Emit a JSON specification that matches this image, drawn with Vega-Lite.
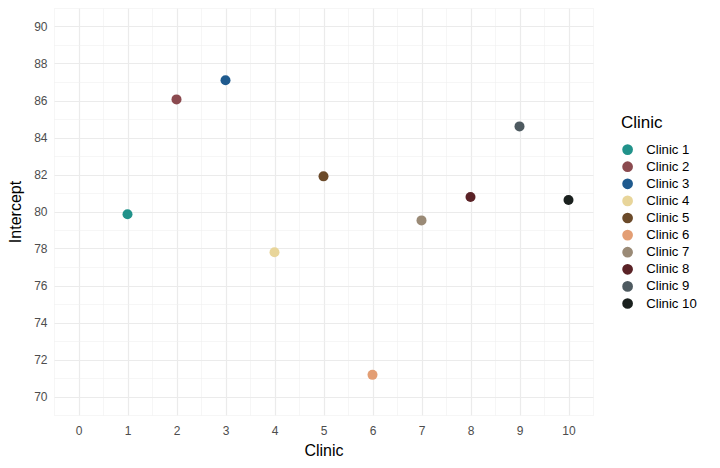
{
  "$schema": "https://vega.github.io/schema/vega-lite/v6.json",
  "width": 539,
  "height": 407,
  "autosize": {"type": "none"},
  "padding": {"left": 54, "top": 8, "right": 127, "bottom": 53},
  "background": "white",
  "config": {
    "view": {"stroke": null},
    "font": "Liberation Sans",
    "axis": {"domain": false, "ticks": false, "labelColor": "#4d4d4d", "labelFontSize": 12, "titleFontSize": 16, "titleFontWeight": "normal", "titleColor": "#000000", "gridColor": "#ebebeb"}
  },
  "data": {"values": [
    {"id": 1, "Clinic": "Clinic 1", "Intercept": 79.85},
    {"id": 2, "Clinic": "Clinic 2", "Intercept": 86.06},
    {"id": 3, "Clinic": "Clinic 3", "Intercept": 87.09},
    {"id": 4, "Clinic": "Clinic 4", "Intercept": 77.8},
    {"id": 5, "Clinic": "Clinic 5", "Intercept": 81.9},
    {"id": 6, "Clinic": "Clinic 6", "Intercept": 71.17},
    {"id": 7, "Clinic": "Clinic 7", "Intercept": 79.52},
    {"id": 8, "Clinic": "Clinic 8", "Intercept": 80.78},
    {"id": 9, "Clinic": "Clinic 9", "Intercept": 84.6},
    {"id": 10, "Clinic": "Clinic 10", "Intercept": 80.62}
  ]},
  "resolve": {"axis": {"x": "independent", "y": "independent"}},
  "layer": [
    {
      "mark": {"type": "point", "opacity": 0},
      "encoding": {
        "x": {"field": "id", "type": "quantitative", "scale": {"domain": [-0.5, 10.5], "nice": false, "zero": false},
          "axis": {"orient": "bottom", "grid": true, "values": [-0.5, 0.5, 1.5, 2.5, 3.5, 4.5, 5.5, 6.5, 7.5, 8.5, 9.5, 10.5], "labels": false, "title": null, "gridWidth": 0.6, "gridColor": "#f0f0f0"}},
        "y": {"field": "Intercept", "type": "quantitative", "scale": {"domain": [69, 91], "nice": false, "zero": false},
          "axis": {"orient": "left", "grid": true, "values": [69, 71, 73, 75, 77, 79, 81, 83, 85, 87, 89, 91], "labels": false, "title": null, "gridWidth": 0.6, "gridColor": "#f0f0f0"}}
      }
    },
    {
      "mark": {"type": "circle", "size": 100, "opacity": 1},
      "encoding": {
        "x": {"field": "id", "type": "quantitative",
          "axis": {"orient": "bottom", "grid": true, "values": [0, 1, 2, 3, 4, 5, 6, 7, 8, 9, 10], "title": "Clinic", "gridWidth": 1.2, "labelPadding": 10, "titlePadding": 6}},
        "y": {"field": "Intercept", "type": "quantitative",
          "axis": {"orient": "left", "grid": true, "values": [70, 72, 74, 76, 78, 80, 82, 84, 86, 88, 90], "title": "Intercept", "gridWidth": 1.2, "labelPadding": 7, "titlePadding": 10}},
        "color": {"field": "Clinic", "type": "nominal",
          "scale": {"domain": ["Clinic 1", "Clinic 2", "Clinic 3", "Clinic 4", "Clinic 5", "Clinic 6", "Clinic 7", "Clinic 8", "Clinic 9", "Clinic 10"],
            "range": ["#21928a", "#8b4a4f", "#1f5a8e", "#e8d59a", "#6b4a2a", "#e39e74", "#9a8a76", "#5a2226", "#4e5a60", "#1a201e"]},
          "legend": {"orient": "none", "legendX": 567, "legendY": 107, "title": "Clinic", "titleFontSize": 17, "titleFontWeight": "normal", "titleColor": "#000000", "titlePadding": 11, "labelFontSize": 13.2, "labelColor": "#000000", "symbolSize": 115, "symbolType": "circle", "rowPadding": 3.1, "labelOffset": 12}}
      }
    }
  ]
}
